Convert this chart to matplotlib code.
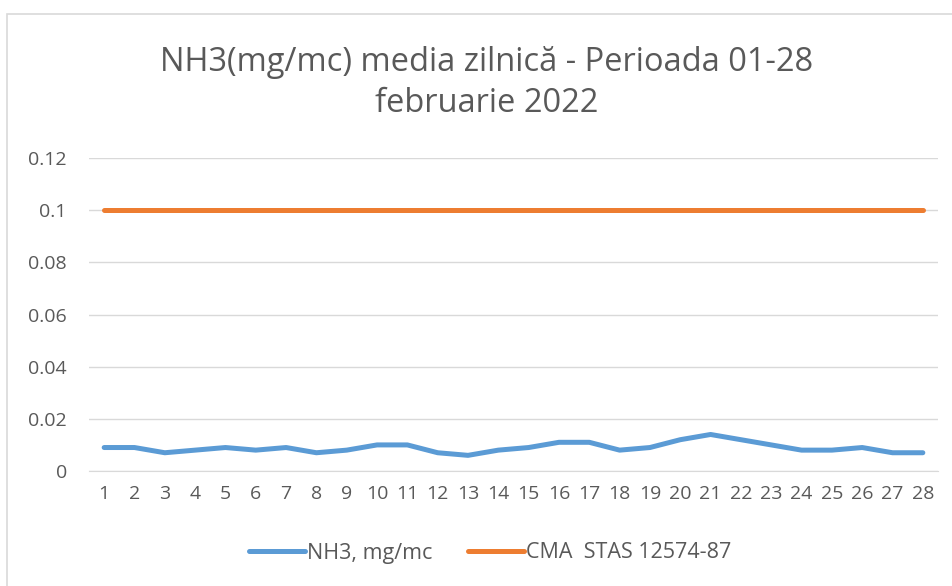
import matplotlib
matplotlib.use("Agg")
import matplotlib.pyplot as plt
from matplotlib.patches import Rectangle

days = list(range(1, 29))
nh3 = [0.009, 0.009, 0.007, 0.008, 0.009, 0.008, 0.009, 0.007, 0.008, 0.010,
       0.010, 0.007, 0.006, 0.008, 0.009, 0.011, 0.011, 0.008, 0.009, 0.012,
       0.014, 0.012, 0.010, 0.008, 0.008, 0.009, 0.007, 0.007]
cma = [0.1] * 28
yticks = [0, 0.02, 0.04, 0.06, 0.08, 0.1, 0.12]
ytick_labels = ["0", "0.02", "0.04", "0.06", "0.08", "0.1", "0.12"]
title = "NH3(mg/mc) media zilnică - Perioada 01-28\nfebruarie 2022"
labels = ["NH3, mg/mc", "CMA  STAS 12574-87"]

plt.rcParams['font.family'] = ['Open Sans', 'DejaVu Sans']
txt = '#595959'

fig = plt.figure(figsize=(9.52, 5.86), dpi=100)
W, H = 952, 586
ax = fig.add_axes([89 / W, 1 - 471 / H, (938 - 89) / W, (471 - 158) / H])

fig.patches.append(Rectangle((7 / W, -0.1), 1.2, 1 - 14 / H + 0.1, transform=fig.transFigure,
                             fill=False, edgecolor='#D9D9D9', linewidth=1.2))

l1, = ax.plot(days, nh3, color='#5B9BD5', linewidth=3.6, solid_capstyle='round',
              solid_joinstyle='round', label=labels[0])
l2, = ax.plot(days, cma, color='#ED7D31', linewidth=3.6, solid_capstyle='round',
              label=labels[1])

ax.set_xlim(0.5, 28.5)
ax.set_ylim(0, 0.12)
ax.set_yticks(yticks)
ax.set_yticklabels(ytick_labels)
ax.set_xticks(days)
ax.set_xticklabels([str(d) for d in days])
ax.grid(axis='y', color='#D9D9D9', linewidth=1)
ax.set_axisbelow(True)
for s in ['top', 'right', 'left']:
    ax.spines[s].set_visible(False)
ax.spines['bottom'].set_color('#D9D9D9')
ax.tick_params(axis='both', length=0, labelsize=14, colors=txt)
ax.tick_params(axis='y', pad=16)
ax.tick_params(axis='x', pad=10)

fig.text(487 / W, 1 - 83 / H, title, ha='center', va='center', fontsize=23.5,
         color=txt, linespacing=1.32)

fig.legend(handles=[l1, l2], labels=labels, loc='center', bbox_to_anchor=(490 / W, 1 - 553 / H),
           ncol=2, frameon=False, fontsize=15.5, labelcolor=txt, handlelength=2.6,
           handletextpad=0.1, columnspacing=1.65)

fig.savefig('out.png', dpi=100)
